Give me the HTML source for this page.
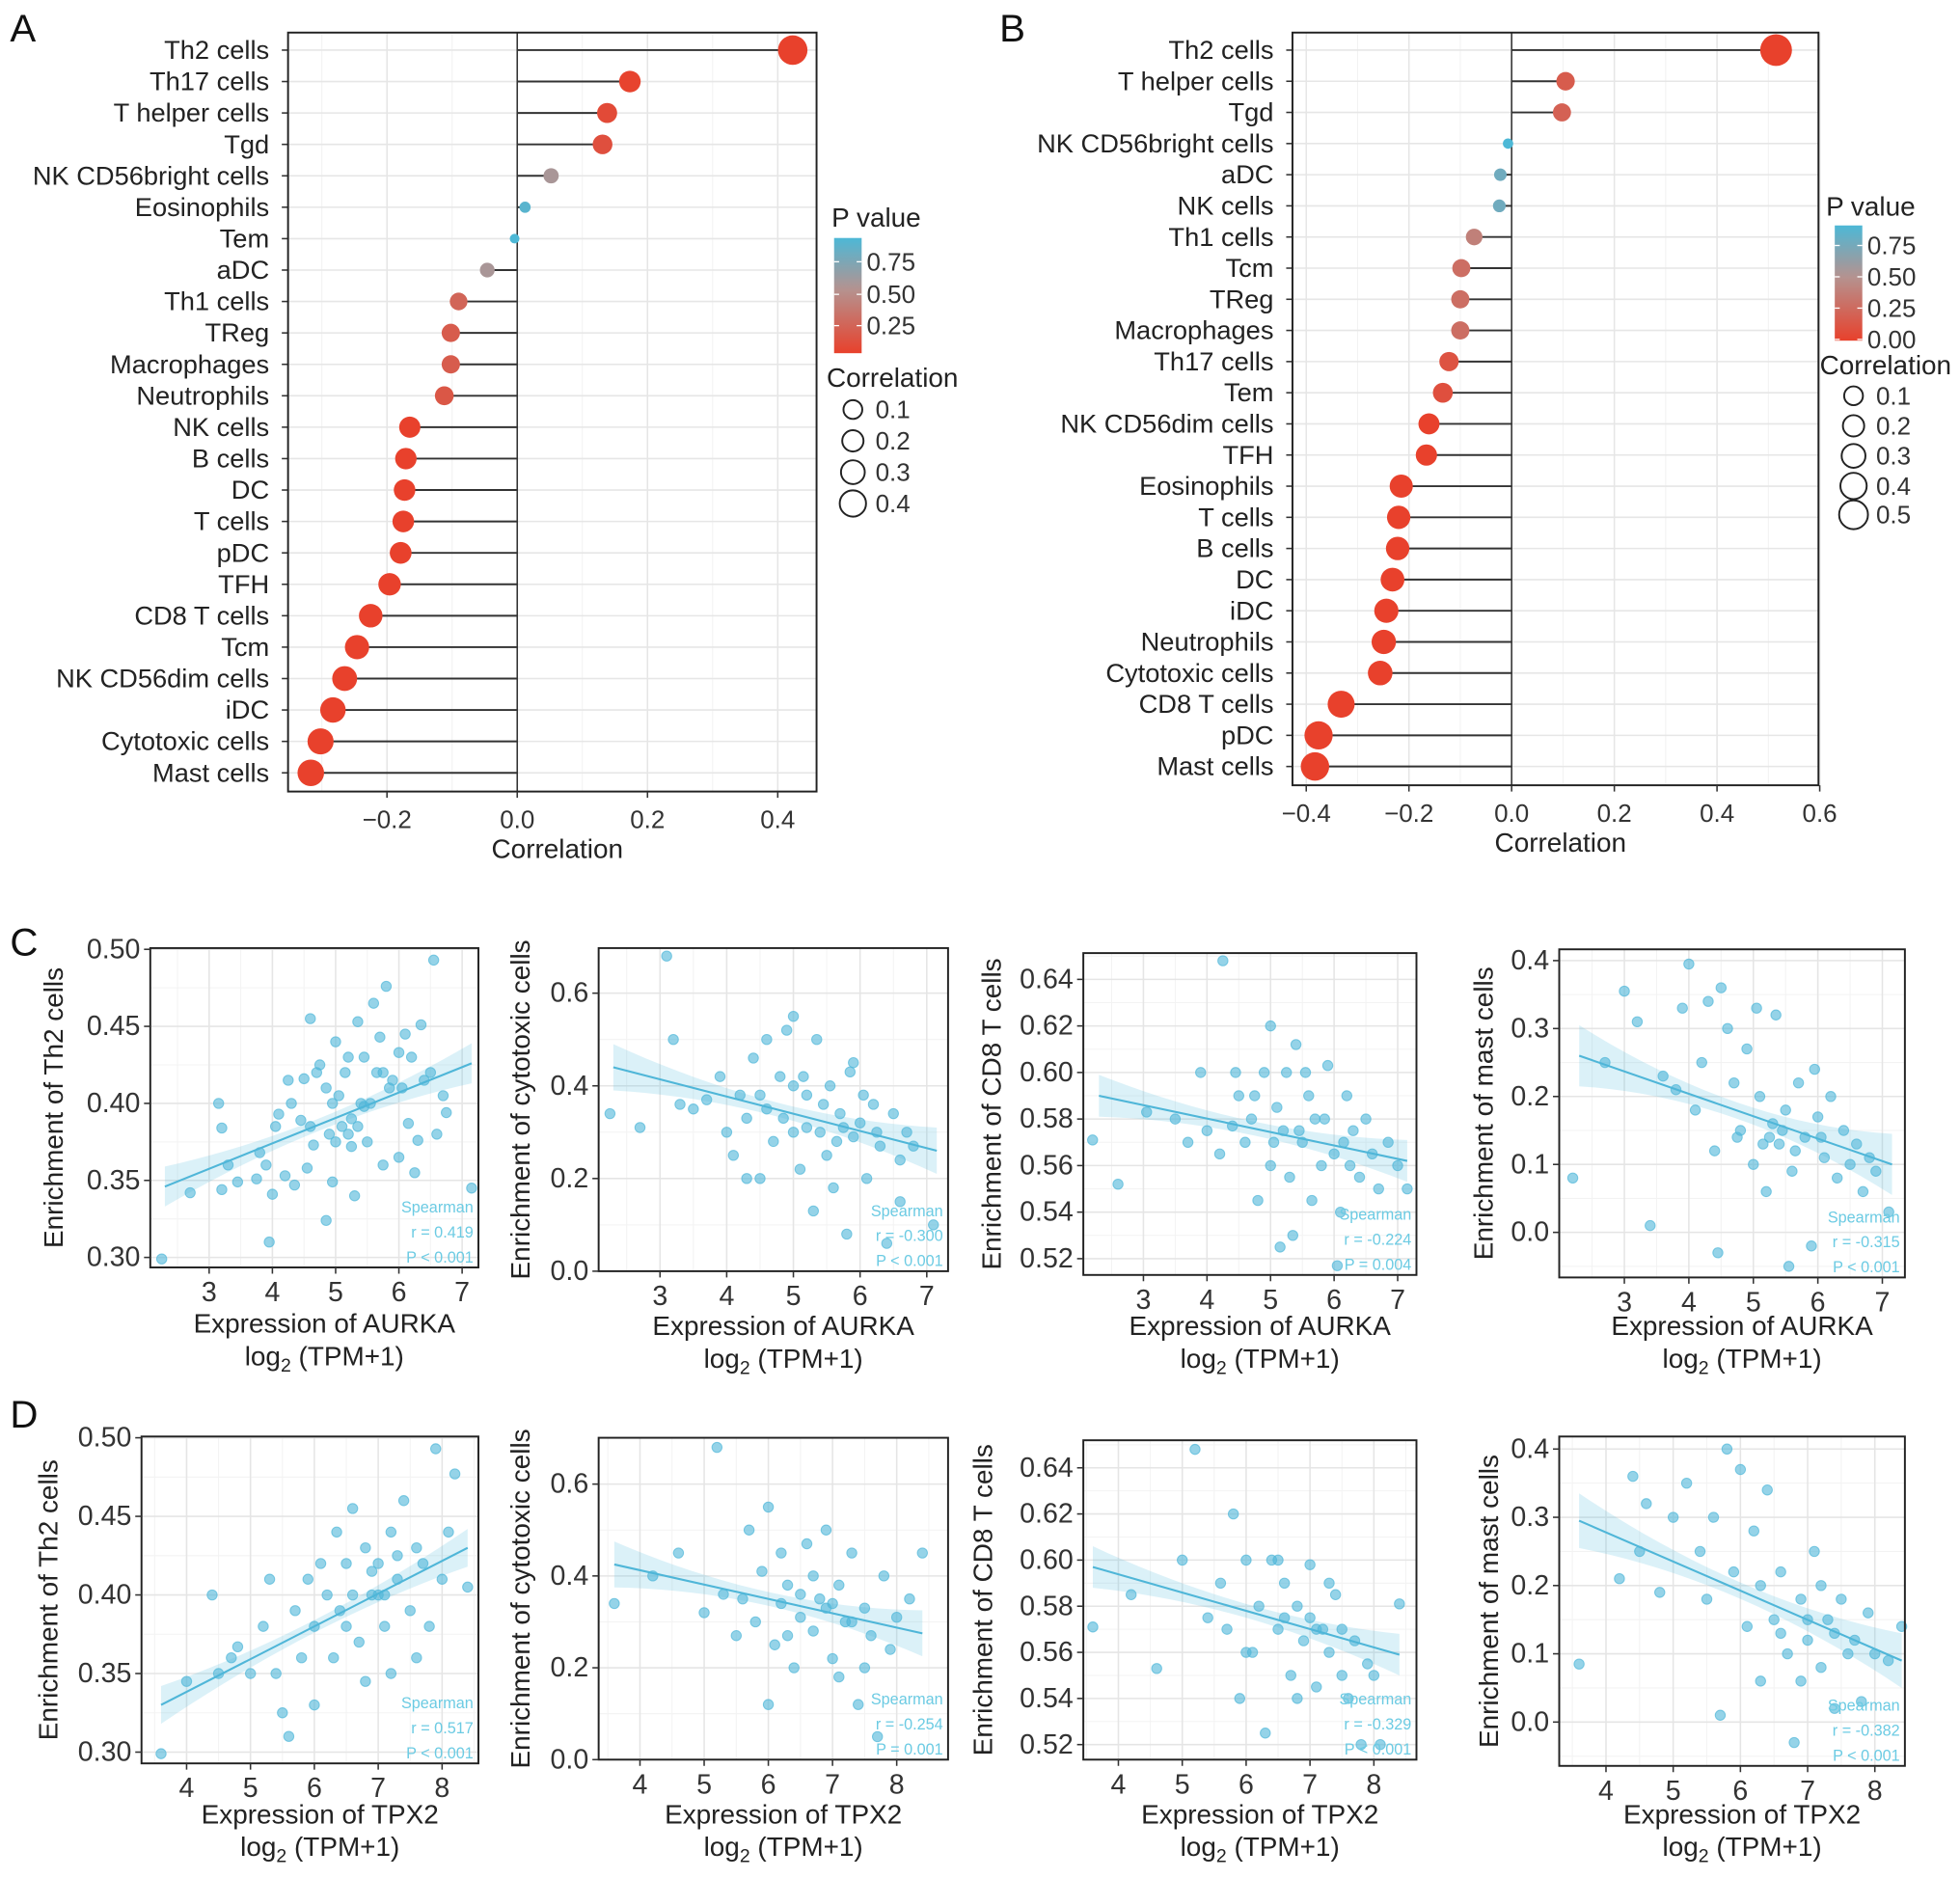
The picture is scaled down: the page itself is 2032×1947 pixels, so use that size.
<!DOCTYPE html>
<html><head><meta charset="utf-8"><style>
html,body{margin:0;padding:0;background:#fff}
svg{display:block;font-family:"Liberation Sans",Arial,sans-serif}
</style></head><body>
<svg id="fig" width="2032" height="1947" viewBox="0 0 1565 1499.5" xmlns="http://www.w3.org/2000/svg">
<defs>
<linearGradient id="pgradA" x1="0" y1="0" x2="0" y2="1"><stop offset="0" stop-color="#4DB8D6"/><stop offset="0.45" stop-color="#B5928F"/><stop offset="1" stop-color="#E8412C"/></linearGradient>
</defs>
<g id="root"></g>
</svg>
<script>
// ---------- Panel A data ----------
const catsA = ["Th2 cells","Th17 cells","T helper cells","Tgd","NK CD56bright cells","Eosinophils","Tem","aDC","Th1 cells","TReg","Macrophages","Neutrophils","NK cells","B cells","DC","T cells","pDC","TFH","CD8 T cells","Tcm","NK CD56dim cells","iDC","Cytotoxic cells","Mast cells"];
const corrA = [0.423,0.173,0.138,0.131,0.052,0.012,-0.004,-0.046,-0.09,-0.102,-0.102,-0.112,-0.165,-0.171,-0.173,-0.175,-0.179,-0.196,-0.225,-0.246,-0.265,-0.283,-0.302,-0.317];
const pA = [0,0.01,0.05,0.08,0.5,0.85,0.95,0.5,0.2,0.15,0.15,0.12,0,0,0,0,0,0,0,0,0,0,0,0];
const ticksA = [-0.2,0,0.2,0.4];
// ---------- Panel B data ----------
const catsB = ["Th2 cells","T helper cells","Tgd","NK CD56bright cells","aDC","NK cells","Th1 cells","Tcm","TReg","Macrophages","Th17 cells","Tem","NK CD56dim cells","TFH","Eosinophils","T cells","B cells","DC","iDC","Neutrophils","Cytotoxic cells","CD8 T cells","pDC","Mast cells"];
const corrB = [0.515,0.105,0.098,-0.007,-0.022,-0.024,-0.073,-0.098,-0.1,-0.1,-0.122,-0.134,-0.161,-0.166,-0.215,-0.22,-0.222,-0.232,-0.244,-0.249,-0.256,-0.332,-0.376,-0.383];
const pB = [0,0.15,0.18,0.95,0.75,0.75,0.35,0.25,0.25,0.25,0.1,0.08,0,0,0,0,0,0,0,0,0,0,0,0];
const ticksB = [-0.4,-0.2,0,0.2,0.4,0.6];
// ---------- Scatter data ----------
const ptsC1=[[2.25,.299],[2.7,.342],[3.15,.4],[3.2,.384],[3.2,.344],[3.3,.36],[3.45,.349],[3.75,.351],[3.8,.368],[3.9,.36],[3.95,.31],[4.0,.341],[4.05,.385],[4.1,.393],[4.2,.353],[4.25,.415],[4.3,.4],[4.35,.347],[4.45,.389],[4.5,.416],[4.55,.358],[4.6,.455],[4.65,.373],[4.7,.42],[4.75,.425],[4.85,.324],[4.9,.38],[4.95,.349],[5.0,.44],[5.05,.405],[5.1,.385],[5.15,.42],[5.2,.43],[5.25,.39],[5.3,.34],[5.35,.453],[5.4,.4],[5.45,.43],[5.5,.375],[5.6,.465],[5.7,.443],[5.75,.36],[5.8,.476],[5.85,.41],[5.9,.415],[6.0,.433],[6.0,.365],[6.1,.445],[6.15,.387],[6.25,.355],[6.3,.376],[6.35,.451],[6.4,.415],[6.5,.42],[6.55,.493],[6.6,.38],[6.7,.405],[6.75,.394],[7.15,.345],[5.55,.4],[5.25,.372],[4.85,.41],[5.65,.42],[6.05,.41],[5.35,.385],[5.0,.375],[5.45,.398],[4.6,.385],[5.2,.38],[6.2,.43],[5.75,.42],[4.95,.4]];
const ptsC2=[[2.25,.34],[2.7,.31],[3.1,.68],[3.2,.5],[3.3,.36],[3.5,.35],[3.7,.37],[3.9,.42],[4.0,.3],[4.1,.25],[4.2,.38],[4.3,.33],[4.4,.46],[4.5,.2],[4.6,.35],[4.7,.28],[4.8,.42],[4.9,.52],[5.0,.55],[5.0,.3],[5.1,.22],[5.15,.42],[5.2,.38],[5.3,.13],[5.35,.5],[5.4,.3],[5.5,.25],[5.55,.4],[5.6,.18],[5.7,.34],[5.8,.08],[5.85,.43],[5.9,.29],[6.0,.32],[6.1,.2],[6.2,.36],[6.3,.27],[6.4,.06],[6.5,.34],[6.6,.24],[6.7,.3],[6.8,.27],[7.1,.1],[4.6,.5],[5.2,.31],[5.65,.28],[6.05,.38],[4.3,.2],[5.9,.45],[6.6,.15],[5.0,.4],[5.45,.36],[4.85,.33],[5.75,.31],[6.25,.3],[4.5,.38]];
const ptsC3=[[2.2,.571],[2.6,.552],[3.05,.583],[3.5,.58],[3.7,.57],[3.9,.6],[4.0,.575],[4.2,.565],[4.25,.648],[4.4,.577],[4.5,.59],[4.6,.57],[4.7,.58],[4.8,.545],[4.9,.6],[5.0,.56],[5.0,.62],[5.1,.585],[5.2,.575],[5.25,.6],[5.3,.555],[5.35,.53],[5.4,.612],[5.5,.57],[5.6,.59],[5.65,.545],[5.7,.58],[5.8,.56],[5.9,.603],[6.0,.565],[6.05,.517],[6.1,.54],[6.2,.59],[6.3,.575],[6.4,.555],[6.5,.58],[6.6,.565],[6.7,.55],[6.85,.57],[7.0,.56],[7.15,.55],[4.45,.6],[5.55,.6],[5.15,.525],[6.25,.56],[4.75,.59],[5.45,.575],[5.05,.57],[5.85,.58],[6.15,.57]];
const ptsC4=[[2.2,.08],[2.7,.25],[3.0,.355],[3.2,.31],[3.4,.01],[3.6,.23],[3.8,.21],[3.9,.33],[4.0,.395],[4.1,.18],[4.2,.25],[4.3,.34],[4.4,.12],[4.5,.36],[4.6,.3],[4.7,.22],[4.8,.15],[4.9,.27],[5.0,.1],[5.1,.2],[5.2,.06],[5.3,.16],[5.35,.32],[5.4,.13],[5.5,.18],[5.6,.09],[5.7,.22],[5.8,.14],[5.9,-.02],[6.0,.17],[6.1,.11],[6.2,.2],[6.3,.08],[6.4,.15],[6.5,.1],[6.6,.13],[6.7,.06],[6.8,.11],[7.1,.03],[4.45,-.03],[5.55,-.05],[6.9,.09],[5.25,.14],[4.75,.14],[5.95,.24],[5.05,.33],[5.45,.15],[5.15,.13],[5.65,.12],[6.05,.14]];
const ptsD1=[[3.6,.299],[4.0,.345],[4.4,.4],[4.5,.35],[4.7,.36],[4.8,.367],[5.0,.35],[5.2,.38],[5.3,.41],[5.4,.35],[5.5,.325],[5.6,.31],[5.7,.39],[5.8,.36],[5.9,.41],[6.0,.38],[6.1,.42],[6.2,.4],[6.3,.36],[6.35,.44],[6.4,.39],[6.5,.42],[6.6,.455],[6.7,.37],[6.8,.43],[6.9,.4],[7.0,.42],[7.1,.38],[7.2,.44],[7.3,.41],[7.4,.46],[7.5,.39],[7.6,.43],[7.7,.42],[7.8,.38],[7.9,.493],[8.0,.41],[8.1,.44],[8.2,.477],[8.4,.405],[7.2,.35],[6.0,.33],[6.8,.345],[7.6,.36],[6.5,.38],[7.0,.4],[7.3,.425],[6.9,.415],[7.1,.4],[6.6,.4]];
const ptsD2=[[3.6,.34],[4.2,.4],[4.6,.45],[5.0,.32],[5.2,.68],[5.3,.36],[5.6,.35],[5.7,.5],[5.8,.3],[5.9,.41],[6.0,.55],[6.1,.25],[6.2,.45],[6.3,.38],[6.4,.2],[6.5,.31],[6.6,.47],[6.7,.28],[6.8,.35],[6.9,.5],[7.0,.22],[7.1,.38],[7.2,.3],[7.3,.45],[7.4,.12],[7.5,.33],[7.6,.27],[7.7,.05],[7.8,.4],[7.9,.24],[8.0,.31],[8.2,.35],[8.4,.45],[6.0,.12],[6.3,.27],[6.7,.4],[7.1,.18],[7.5,.2],[5.5,.27],[6.9,.33],[6.5,.36],[7.3,.3],[6.2,.34],[7.0,.34]];
const ptsD3=[[3.6,.571],[4.2,.585],[4.6,.553],[5.0,.6],[5.2,.648],[5.4,.575],[5.6,.59],[5.7,.57],[5.8,.62],[5.9,.54],[6.0,.6],[6.1,.56],[6.2,.58],[6.3,.525],[6.4,.6],[6.5,.57],[6.6,.59],[6.7,.55],[6.8,.58],[6.9,.565],[7.0,.598],[7.1,.545],[7.2,.57],[7.3,.56],[7.4,.585],[7.5,.55],[7.6,.54],[7.7,.565],[7.8,.52],[7.9,.555],[8.0,.55],[8.1,.52],[8.4,.581],[6.5,.6],[7.0,.575],[6.0,.56],[7.3,.59],[6.8,.54],[7.1,.57],[6.6,.575],[7.5,.57]];
const ptsD4=[[3.6,.085],[4.2,.21],[4.4,.36],[4.5,.25],[4.6,.32],[4.8,.19],[5.0,.3],[5.2,.35],[5.4,.25],[5.5,.18],[5.6,.3],[5.7,.01],[5.8,.4],[5.9,.22],[6.0,.37],[6.1,.14],[6.2,.28],[6.3,.06],[6.4,.34],[6.5,.15],[6.6,.22],[6.7,.1],[6.8,-.03],[6.9,.18],[7.0,.12],[7.1,.25],[7.2,.08],[7.3,.15],[7.4,.02],[7.5,.18],[7.6,.1],[7.7,.12],[7.8,.03],[7.9,.16],[8.0,.1],[8.2,.09],[8.4,.14],[6.9,.06],[7.2,.2],[6.3,.2],[7.0,.15],[6.6,.13],[7.4,.13]];
const fitC1=[2.3,.346,7.15,.426]; const bandC1=[.013,.004];
const fitC2=[2.3,.44,7.15,.26]; const bandC2=[.05,.015];
const fitC3=[2.3,.59,7.15,.562]; const bandC3=[.009,.003];
const fitC4=[2.3,.26,7.15,.10]; const bandC4=[.045,.012];
const fitD1=[3.6,.33,8.4,.43]; const bandD1=[.012,.004];
const fitD2=[3.6,.425,8.4,.275]; const bandD2=[.05,.015];
const fitD3=[3.6,.597,8.4,.559]; const bandD3=[.009,.003];
const fitD4=[3.6,.295,8.4,.09]; const bandD4=[.04,.012];
const statsC=[["r = 0.419","P < 0.001"],["r = -0.300","P < 0.001"],["r = -0.224","P = 0.004"],["r = -0.315","P < 0.001"]];
const statsD=[["r = 0.517","P < 0.001"],["r = -0.254","P = 0.001"],["r = -0.329","P < 0.001"],["r = -0.382","P < 0.001"]];
const yTicksTh2=[0.30,0.35,0.40,0.45,0.50];
const yTicksCyto=[0.0,0.2,0.4,0.6];
const yTicksCD8=[0.52,0.54,0.56,0.58,0.60,0.62,0.64];
const yTicksMast=[0.0,0.1,0.2,0.3,0.4];
const xTicksC=[3,4,5,6,7];
const xTicksD=[4,5,6,7,8];

const NS="http://www.w3.org/2000/svg";
const root=document.getElementById('root');
function mk(tag,attrs,parent){const e=document.createElementNS(NS,tag);for(const k in attrs)e.setAttribute(k,attrs[k]);(parent||root).appendChild(e);return e;}
function txt(s,attrs,parent){const e=mk('text',attrs,parent);e.textContent=s;return e;}
function lerp(a,b,t){return a+(b-a)*t;}
function hex(c){return [parseInt(c.slice(1,3),16),parseInt(c.slice(3,5),16),parseInt(c.slice(5,7),16)];}
function pColor(p){const r=hex('#E8412C'),m=hex('#B5928F'),b=hex('#4DB8D6');let c;
 if(p<0.45){const t=p/0.45;c=r.map((v,i)=>Math.round(lerp(v,m[i],t)));}else{const t=Math.min(1,(p-0.45)/0.45);c=m.map((v,i)=>Math.round(lerp(v,b[i],t)));}
 return 'rgb('+c.join(',')+')';}
function fmt(v,d){return (v<0?'\u2212':'')+Math.abs(v).toFixed(d);}

function lollipop(o){
 const g=mk('g',{});
 
 
 const xs=v=>o.x0+v*o.k;
 const ys=i=>o.yTop+i*o.dy;
 mk('rect',{x:o.bx0,y:o.by0,width:o.bx1-o.bx0,height:o.by1-o.by0,fill:'#fff'},g);
 for(let v=o.ticks[0]-0.1;v<=o.ticks[o.ticks.length-1]+0.1;v+=0.2){const x=xs(v);if(x>o.bx0&&x<o.bx1)mk('line',{x1:x,x2:x,y1:o.by0,y2:o.by1,stroke:'#f2f2f2','stroke-width':0.8},g);}
 o.ticks.forEach(v=>{const x=xs(v);mk('line',{x1:x,x2:x,y1:o.by0,y2:o.by1,stroke:'#e6e6e6','stroke-width':1.2},g);});
 o.cats.forEach((c,i)=>{mk('line',{x1:o.bx0,x2:o.bx1,y1:ys(i),y2:ys(i),stroke:'#e6e6e6','stroke-width':1.2},g);});
 mk('line',{x1:xs(0),x2:xs(0),y1:o.by0,y2:o.by1,stroke:'#333','stroke-width':1.2},g);
 o.cats.forEach((c,i)=>{
  const seg=mk('line',{x1:xs(0),x2:xs(o.corr[i]),y1:ys(i),y2:ys(i),stroke:'#333','stroke-width':1.5},g);
  
  
  const r=3+13.5*Math.sqrt(Math.abs(o.corr[i]));
  const dot=mk('circle',{cx:xs(o.corr[i]),cy:ys(i),r:r,fill:pColor(o.p[i])},g);
  
  
  const lab=txt(c,{x:o.bx0-15,y:ys(i)+7,'text-anchor':'end','font-size':21,fill:'#222'},g);
  
  
  mk('line',{x1:o.bx0-5,x2:o.bx0,y1:ys(i),y2:ys(i),stroke:'#333','stroke-width':1.2},g);
 });
 mk('rect',{x:o.bx0,y:o.by0,width:o.bx1-o.bx0,height:o.by1-o.by0,fill:'none',stroke:'#222','stroke-width':1.5},g);
 o.ticks.forEach(v=>{const x=xs(v);mk('line',{x1:x,x2:x,y1:o.by1,y2:o.by1+5,stroke:'#333','stroke-width':1.2},g);
  const t=txt(fmt(v,1),{x:x,y:o.by1+29,'text-anchor':'middle','font-size':20,fill:'#333'},g);
  
  });
 const xt=txt('Correlation',{x:(o.bx0+o.bx1)/2+4,y:o.by1+53,'text-anchor':'middle','font-size':21.5,fill:'#222'},g);
 
 
}

lollipop({name:'panel-a-lollipop',cats:catsA,corr:corrA,p:pA,ticks:ticksA,x0:413,k:520,yTop:40,dy:25.09,bx0:230,bx1:652,by0:26,by1:632});
lollipop({name:'panel-b-lollipop',cats:catsB,corr:corrB,p:pB,ticks:ticksB,x0:1207,k:410,yTop:40,dy:24.87,bx0:1032,bx1:1452,by0:26,by1:627});

function legend(o){
 const g=mk('g',{});
 
 
 txt('P value',{x:o.tx,y:o.ty,'font-size':21.5,fill:'#222'},g);
 mk('rect',{x:o.bx,y:o.by0,width:22,height:o.by1-o.by0,fill:'url(#pgradA)'},g);
 o.labels.forEach((l,i)=>{mk('line',{x1:o.bx,x2:o.bx+4,y1:o.ly[i],y2:o.ly[i],stroke:'#fff','stroke-width':1},g);mk('line',{x1:o.bx+18,x2:o.bx+22,y1:o.ly[i],y2:o.ly[i],stroke:'#fff','stroke-width':1},g);
  txt(l,{x:o.bx+26,y:o.ly[i]+7,'font-size':20,fill:'#333'},g);});
 txt('Correlation',{x:o.cx,y:o.cy,'font-size':21.5,fill:'#222'},g);
 o.sizes.forEach((s,i)=>{mk('circle',{cx:o.ccx,cy:o.cys[i],r:6.5+s*10,fill:'none',stroke:'#222','stroke-width':1.5},g);
  txt(s.toFixed(1),{x:o.ccx+18,y:o.cys[i]+7,'font-size':20,fill:'#333'},g);});
}
legend({name:'legend-a',tx:664,ty:181,bx:666,by0:190,by1:282,labels:['0.75','0.50','0.25'],ly:[209,235,260],cx:660,cy:309,ccx:681,cys:[327,352,377,402],sizes:[0.1,0.2,0.3,0.4]});
legend({name:'legend-b',tx:1458,ty:172,bx:1465,by0:180,by1:272,labels:['0.75','0.50','0.25','0.00'],ly:[196,221,246,271],cx:1453,cy:299,ccx:1480,cys:[316,340,364,388,411],sizes:[0.1,0.2,0.3,0.4,0.5]});

function scatter(o){
 const g=mk('g',{});
 
 
 const xs=v=>o.xp0+(v-o.xv0)*(o.xp1-o.xp0)/(o.xv1-o.xv0);
 const ys=v=>o.yp0+(v-o.yv0)*(o.yp1-o.yp0)/(o.yv1-o.yv0);
 const [L,R,T,B]=o.box;
 mk('rect',{x:L,y:T,width:R-L,height:B-T,fill:'#fff'},g);
 const ystep=o.yt[1]-o.yt[0], xstep=o.xt[1]-o.xt[0];
 for(let v=o.yt[0]-ystep/2;v<=o.yt[o.yt.length-1]+ystep;v+=ystep){const y=ys(v);if(y>T&&y<B)mk('line',{x1:L,x2:R,y1:y,y2:y,stroke:'#f3f3f3','stroke-width':0.8},g);}
 for(let v=o.xt[0]-xstep/2;v<=o.xt[o.xt.length-1]+xstep;v+=xstep){const x=xs(v);if(x>L&&x<R)mk('line',{x1:x,x2:x,y1:T,y2:B,stroke:'#f3f3f3','stroke-width':0.8},g);}
 o.yt.forEach(v=>{const y=ys(v);mk('line',{x1:L,x2:R,y1:y,y2:y,stroke:'#e5e5e5','stroke-width':1.2},g);});
 o.xt.forEach(v=>{const x=xs(v);mk('line',{x1:x,x2:x,y1:T,y2:B,stroke:'#e5e5e5','stroke-width':1.2},g);});
 const f=o.fit,bd=o.band,N=20;let up=[],lo=[];
 for(let i=0;i<=N;i++){const t=i/N;const xv=lerp(f[0],f[2],t),yv=lerp(f[1],f[3],t);const h=bd[1]+(bd[0]-bd[1])*Math.pow(2*t-1,2);up.push(xs(xv)+','+ys(yv+h));lo.unshift(xs(xv)+','+ys(yv-h));}
 const band=mk('polygon',{points:up.concat(lo).join(' '),fill:'#5BC0DE','fill-opacity':0.22},g);
 
 
 o.pts.forEach(p=>{const c=mk('circle',{cx:xs(p[0]),cy:ys(p[1]),r:4,fill:'#4FB6D8','fill-opacity':0.6,stroke:'#4FB6D8','stroke-opacity':0.7,'stroke-width':0.8},g);
  
  });
 const ln=mk('line',{x1:xs(f[0]),y1:ys(f[1]),x2:xs(f[2]),y2:ys(f[3]),stroke:'#4FB6D8','stroke-width':1.6},g);
 
 
 mk('rect',{x:L,y:T,width:R-L,height:B-T,fill:'none',stroke:'#222','stroke-width':1.5},g);
 o.yt.forEach(v=>{const y=ys(v);mk('line',{x1:L-5,x2:L,y1:y,y2:y,stroke:'#333','stroke-width':1.2},g);
  const t=txt(v.toFixed(o.yd),{x:L-8,y:y+7,'text-anchor':'end','font-size':22,fill:'#333'},g);
  
  });
 o.xt.forEach(v=>{const x=xs(v);mk('line',{x1:x,x2:x,y1:B,y2:B+5,stroke:'#333','stroke-width':1.2},g);
  const t=txt(String(v),{x:x,y:B+27,'text-anchor':'middle','font-size':22,fill:'#333'},g);
  
  });
 const cx=(L+R)/2+8;
 const t1=txt('Expression of '+o.gene,{x:cx,y:o.tty,'text-anchor':'middle','font-size':21.5,fill:'#222'},g);
 
 
 const t2=mk('text',{x:cx,y:o.tty+26,'text-anchor':'middle','font-size':21.5,fill:'#222'},g);
 t2.innerHTML='log<tspan font-size="15" dy="5">2</tspan><tspan dy="-5"> (TPM+1)</tspan>';
 const yt=txt(o.ytitle,{x:0,y:0,'text-anchor':'middle','font-size':21.5,fill:'#222',transform:'translate('+o.ytx+','+((T+B)/2)+') rotate(-90)'},g);
 
 
 const s=o.stats;
 txt('Spearman',{x:R-4,y:B-44,'text-anchor':'end','font-size':12.5,fill:'#6CCBE3'},g);
 txt(s[0],{x:R-4,y:B-24,'text-anchor':'end','font-size':12.5,fill:'#6CCBE3'},g);
 txt(s[1],{x:R-4,y:B-4,'text-anchor':'end','font-size':12.5,fill:'#6CCBE3'},g);
}
scatter({name:'panel-c1-th2',pts:ptsC1,fit:fitC1,band:bandC1,stats:statsC[0],box:[120,382,757,1012],yt:yTicksTh2,yd:2,xt:xTicksC,yv0:.30,yp0:1004,yv1:.50,yp1:758,xv0:3,xp0:167,xv1:7,xp1:369,gene:'AURKA',ytitle:'Enrichment of Th2 cells',ytx:50,tty:1064});
scatter({name:'panel-c2-cytotoxic',pts:ptsC2,fit:fitC2,band:bandC2,stats:statsC[1],box:[478,757,757,1015],yt:yTicksCyto,yd:1,xt:xTicksC,yv0:0,yp0:1015,yv1:.6,yp1:793,xv0:3,xp0:527,xv1:7,xp1:740,gene:'AURKA',ytitle:'Enrichment of cytotoxic cells',ytx:423,tty:1066});
scatter({name:'panel-c3-cd8',pts:ptsC3,fit:fitC3,band:bandC3,stats:statsC[2],box:[865,1131,761,1018],yt:yTicksCD8,yd:2,xt:xTicksC,yv0:.52,yp0:1005,yv1:.64,yp1:782,xv0:3,xp0:913,xv1:7,xp1:1116,gene:'AURKA',ytitle:'Enrichment of CD8 T cells',ytx:799,tty:1066});
scatter({name:'panel-c4-mast',pts:ptsC4,fit:fitC4,band:bandC4,stats:statsC[3],box:[1245,1521,758,1020],yt:yTicksMast,yd:1,xt:xTicksC,yv0:0,yp0:984,yv1:.4,yp1:767,xv0:3,xp0:1297,xv1:7,xp1:1503,gene:'AURKA',ytitle:'Enrichment of mast cells',ytx:1192,tty:1066});
scatter({name:'panel-d1-th2',pts:ptsD1,fit:fitD1,band:bandD1,stats:statsD[0],box:[113,382,1147,1408],yt:yTicksTh2,yd:2,xt:xTicksD,yv0:.30,yp0:1399,yv1:.50,yp1:1148,xv0:4,xp0:149,xv1:8,xp1:353,gene:'TPX2',ytitle:'Enrichment of Th2 cells',ytx:46,tty:1456});
scatter({name:'panel-d2-cytotoxic',pts:ptsD2,fit:fitD2,band:bandD2,stats:statsD[1],box:[478,757,1148,1405],yt:yTicksCyto,yd:1,xt:xTicksD,yv0:0,yp0:1405,yv1:.6,yp1:1185,xv0:4,xp0:511,xv1:8,xp1:716,gene:'TPX2',ytitle:'Enrichment of cytotoxic cells',ytx:423,tty:1456});
scatter({name:'panel-d3-cd8',pts:ptsD3,fit:fitD3,band:bandD3,stats:statsD[2],box:[865,1131,1150,1405],yt:yTicksCD8,yd:2,xt:xTicksD,yv0:.52,yp0:1393,yv1:.64,yp1:1172,xv0:4,xp0:893,xv1:8,xp1:1097,gene:'TPX2',ytitle:'Enrichment of CD8 T cells',ytx:792,tty:1456});
scatter({name:'panel-d4-mast',pts:ptsD4,fit:fitD4,band:bandD4,stats:statsD[3],box:[1245,1521,1147,1410],yt:yTicksMast,yd:1,xt:xTicksD,yv0:0,yp0:1375,yv1:.4,yp1:1157,xv0:5,xp0:1336,xv1:8,xp1:1497,gene:'TPX2',ytitle:'Enrichment of mast cells',ytx:1196,tty:1456});

[['A',8,33],['B',798,33],['C',8,763],['D',8,1140]].forEach(l=>{const t=txt(l[0],{x:l[1],y:l[2],'font-size':31,fill:'#111'});
 
 });
</script>
</body></html>
